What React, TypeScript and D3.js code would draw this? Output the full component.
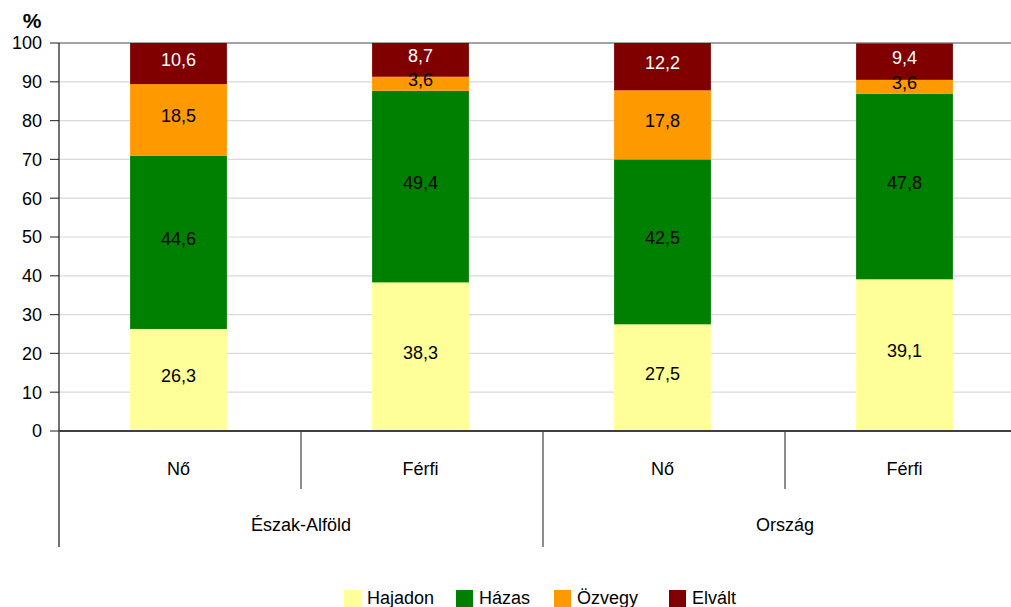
import React from "react";
import * as d3 from "d3";

const groups = ["Észak-Alföld", "Ország"];
const sexes = ["Nő", "Férfi"];
const seriesNames = ["Hajadon", "Házas", "Özvegy", "Elvált"];
const seriesColors = ["#FFFF99", "#008000", "#FF9900", "#800000"];
const labelColors = ["#000000", "#000000", "#000000", "#FFFFFF"];
const hajadon = [26.3, 38.3, 27.5, 39.1];
const hazas = [44.6, 49.4, 42.5, 47.8];
const ozvegy = [18.5, 3.6, 17.8, 3.6];
const elvalt = [10.6, 8.7, 12.2, 9.4];
const yTicks = [0, 10, 20, 30, 40, 50, 60, 70, 80, 90, 100];

const W = 1011;
const H = 607;
const FONT = "'Liberation Sans', Arial, sans-serif";

export default function App() {
  const keys = groups.flatMap((g) => sexes.map((s) => g + "|" + s));
  const left = 59;
  const right = 1027;
  const x = d3.scaleBand<string>().domain(keys).range([left, right]).padding(0);
  const y = d3.scaleLinear().domain([0, 100]).range([431, 43]);
  const bw = x.bandwidth() * 0.4;

  const rows = keys.map((k, i) => ({
    key: k,
    Hajadon: hajadon[i],
    Házas: hazas[i],
    Özvegy: ozvegy[i],
    Elvált: elvalt[i],
  }));
  const stacked = d3.stack<any>().keys(seriesNames)(rows);

  const fmt = (v: number) => v.toFixed(1).replace(".", ",");
  const xAxisBottom = 547;
  const groupW = x.bandwidth() * sexes.length;

  const legendX = [344, 456, 554, 669];

  return (
    <div style={{ position: "absolute", left: 0, top: 0 }}>
      <svg width={W} height={H} style={{ display: "block", fontFamily: FONT }}>
        <rect x={0} y={0} width={W} height={H} fill="#fff" />
        {/* gridlines */}
        {yTicks.filter((t) => t > 0).map((t) => (
          <line
            key={"g" + t}
            x1={left}
            x2={W}
            y1={y(t)}
            y2={y(t)}
            stroke={t === 100 ? "#868686" : "#D9D9D9"}
            strokeWidth={t === 100 ? 1.5 : 1.2}
          />
        ))}
        {/* bars */}
        {stacked.map((s, si) =>
          s.map((d, i) => {
            const cx = (x(keys[i]) as number) + x.bandwidth() / 2 - 1.5;
            const y0 = y(d[1]);
            const y1 = y(d[0]);
            return (
              <g key={si + "-" + i}>
                <rect x={cx - bw / 2} y={y0} width={bw} height={y1 - y0} fill={seriesColors[si]} />
              </g>
            );
          })
        )}
        {stacked.map((s, si) =>
          s.map((d, i) => {
            const cx = (x(keys[i]) as number) + x.bandwidth() / 2 - 1.5;
            const v = d[1] - d[0];
            const cy = y((d[0] + d[1]) / 2);
            return (
              <text
                key={"t" + si + "-" + i}
                x={cx}
                y={cy}
                dy="0.12em"
                textAnchor="middle"
                fontSize={18}
                fill={labelColors[si]}
              >
                {fmt(v)}
              </text>
            );
          })
        )}
        {/* y axis ticks and labels */}
        {yTicks.map((t) => (
          <g key={"y" + t}>
            <line x1={50} x2={left} y1={y(t)} y2={y(t)} stroke="#404040" strokeWidth={1.2} />
            <text x={42} y={y(t)} dy="0.35em" textAnchor="end" fontSize={18} fill="#000">
              {t}
            </text>
          </g>
        ))}
        <text x={32} y={28} textAnchor="middle" fontSize={21} fontWeight="bold" fill="#000">
          %
        </text>
        {/* y axis line */}
        <line x1={left} x2={left} y1={y(100)} y2={xAxisBottom} stroke="#262626" strokeWidth={1.3} />
        {/* x axis line */}
        <line x1={left} x2={W} y1={y(0)} y2={y(0)} stroke="#404040" strokeWidth={2} />
        {/* separators */}
        {keys.map((k, i) => {
          if (i === 0) return null;
          const xx = x(k) as number;
          const isGroup = i % sexes.length === 0;
          return (
            <line
              key={"sep" + i}
              x1={xx}
              x2={xx}
              y1={y(0)}
              y2={isGroup ? xAxisBottom : 489}
              stroke="#404040"
              strokeWidth={1.2}
            />
          );
        })}
        {/* sex labels */}
        {keys.map((k, i) => (
          <text
            key={"sx" + i}
            x={(x(k) as number) + x.bandwidth() / 2 - 1.5}
            y={469}
            dy="0.35em"
            textAnchor="middle"
            fontSize={18}
            fill="#000"
          >
            {sexes[i % sexes.length]}
          </text>
        ))}
        {/* group labels */}
        {groups.map((g, gi) => (
          <text
            key={"gr" + gi}
            x={left + groupW * gi + groupW / 2}
            y={525}
            dy="0.35em"
            textAnchor="middle"
            fontSize={18}
            fill="#000"
          >
            {g}
          </text>
        ))}
        {/* legend */}
        {seriesNames.map((n, i) => (
          <g key={"lg" + i}>
            <rect x={legendX[i]} y={590} width={17} height={17} fill={seriesColors[i]} />
            <text x={legendX[i] + 23} y={598} dy="0.35em" fontSize={18} fill="#000">
              {n}
            </text>
          </g>
        ))}
      </svg>
    </div>
  );
}
